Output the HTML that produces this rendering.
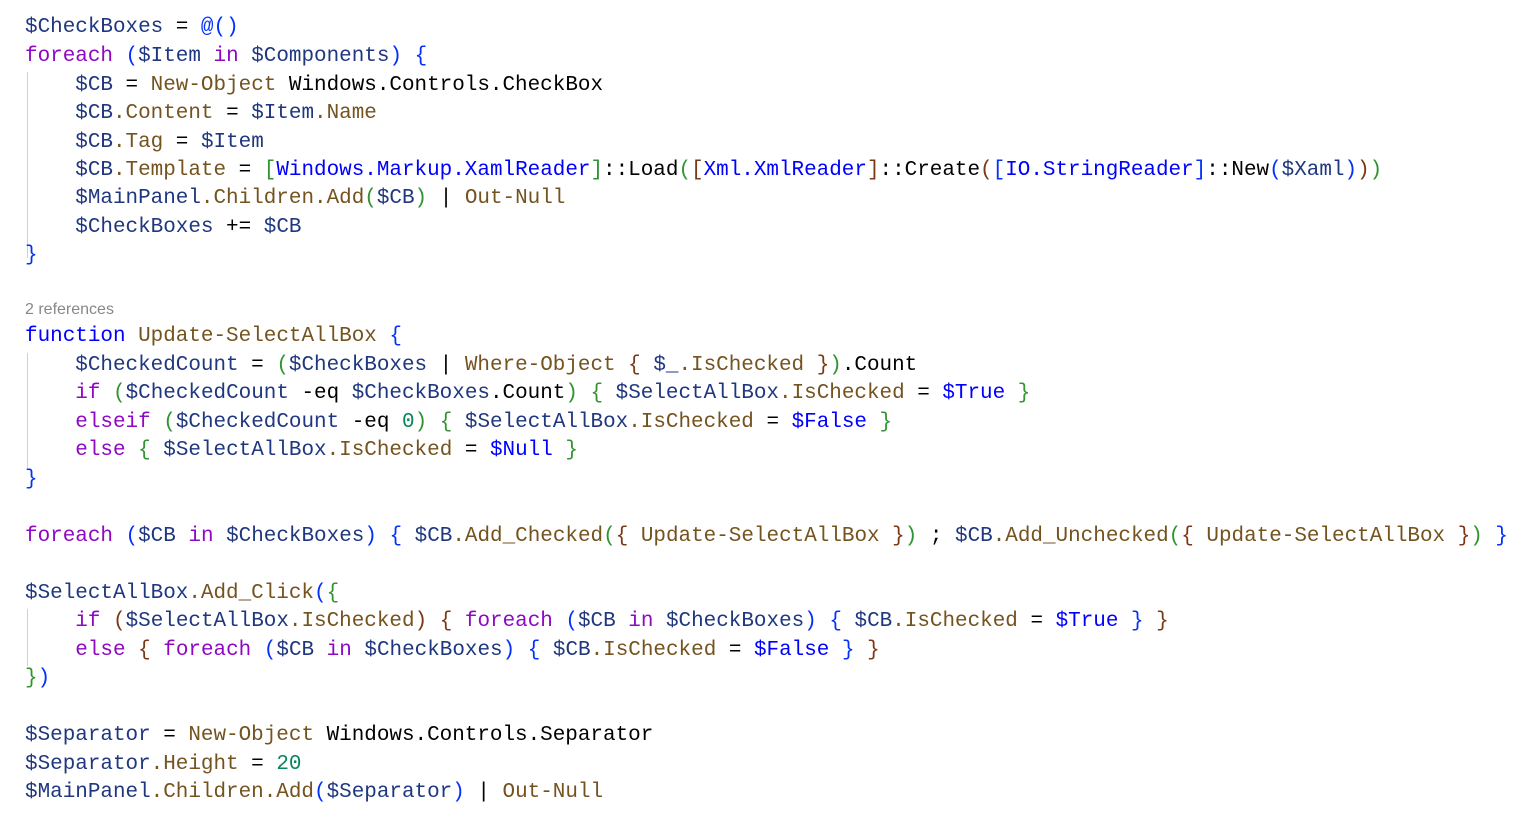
<!DOCTYPE html>
<html><head><meta charset="utf-8"><style>
html,body{margin:0;padding:0;background:#fff;width:1536px;height:820px;overflow:hidden}
.l{position:absolute;left:25px;height:28px;line-height:28px;font-family:"Liberation Mono",monospace;font-size:20.95px;color:#000;white-space:pre}
.v{color:#1f377f}.k{color:#8f08c4}.kb{color:#0000ff}.m{color:#74531f}.t{color:#0000ff}.n{color:#098658}
.b1{color:#0431fa}.b2{color:#319331}.b3{color:#7b3814}
.g{position:absolute;left:27px;width:1px;background:#d0d0d0}
.cl{position:absolute;left:25px;top:301px;font-family:"Liberation Sans",sans-serif;font-size:16px;color:#888}
</style></head><body>
<div class="g" style="top:72px;height:186px"></div>
<div class="g" style="top:353px;height:115px"></div>
<div class="g" style="top:609px;height:57px"></div>
<div class="l" style="top:14px"><span class="v">$CheckBoxes</span> = <span class="b1">@(</span><span class="b1">)</span></div>
<div class="l" style="top:43px"><span class="k">foreach</span> <span class="b1">(</span><span class="v">$Item</span> <span class="k">in</span> <span class="v">$Components</span><span class="b1">)</span> <span class="b1">{</span></div>
<div class="l" style="top:72px">    <span class="v">$CB</span> = <span class="m">New-Object</span> Windows.Controls.CheckBox</div>
<div class="l" style="top:100px">    <span class="v">$CB</span><span class="m">.Content</span> = <span class="v">$Item</span><span class="m">.Name</span></div>
<div class="l" style="top:129px">    <span class="v">$CB</span><span class="m">.Tag</span> = <span class="v">$Item</span></div>
<div class="l" style="top:157px">    <span class="v">$CB</span><span class="m">.Template</span> = <span class="b2">[</span><span class="t">Windows.Markup.XamlReader</span><span class="b2">]</span>::Load<span class="b2">(</span><span class="b3">[</span><span class="t">Xml.XmlReader</span><span class="b3">]</span>::Create<span class="b3">(</span><span class="b1">[</span><span class="t">IO.StringReader</span><span class="b1">]</span>::New<span class="b1">(</span><span class="v">$Xaml</span><span class="b1">)</span><span class="b3">)</span><span class="b2">)</span></div>
<div class="l" style="top:185px">    <span class="v">$MainPanel</span><span class="m">.Children.Add</span><span class="b2">(</span><span class="v">$CB</span><span class="b2">)</span> | <span class="m">Out-Null</span></div>
<div class="l" style="top:214px">    <span class="v">$CheckBoxes</span> += <span class="v">$CB</span></div>
<div class="l" style="top:242px"><span class="b1">}</span></div>
<div class="cl">2 references</div>
<div class="l" style="top:323px"><span class="kb">function</span> <span class="m">Update-SelectAllBox</span> <span class="b1">{</span></div>
<div class="l" style="top:352px">    <span class="v">$CheckedCount</span> = <span class="b2">(</span><span class="v">$CheckBoxes</span> | <span class="m">Where-Object</span> <span class="b3">{</span> <span class="v">$_</span><span class="m">.IsChecked</span> <span class="b3">}</span><span class="b2">)</span>.Count</div>
<div class="l" style="top:380px">    <span class="k">if</span> <span class="b2">(</span><span class="v">$CheckedCount</span> -eq <span class="v">$CheckBoxes</span>.Count<span class="b2">)</span> <span class="b2">{</span> <span class="v">$SelectAllBox</span><span class="m">.IsChecked</span> = <span class="kb">$True</span> <span class="b2">}</span></div>
<div class="l" style="top:409px">    <span class="k">elseif</span> <span class="b2">(</span><span class="v">$CheckedCount</span> -eq <span class="n">0</span><span class="b2">)</span> <span class="b2">{</span> <span class="v">$SelectAllBox</span><span class="m">.IsChecked</span> = <span class="kb">$False</span> <span class="b2">}</span></div>
<div class="l" style="top:437px">    <span class="k">else</span> <span class="b2">{</span> <span class="v">$SelectAllBox</span><span class="m">.IsChecked</span> = <span class="kb">$Null</span> <span class="b2">}</span></div>
<div class="l" style="top:466px"><span class="b1">}</span></div>
<div class="l" style="top:523px"><span class="k">foreach</span> <span class="b1">(</span><span class="v">$CB</span> <span class="k">in</span> <span class="v">$CheckBoxes</span><span class="b1">)</span> <span class="b1">{</span> <span class="v">$CB</span><span class="m">.Add_Checked</span><span class="b2">(</span><span class="b3">{</span> <span class="m">Update-SelectAllBox</span> <span class="b3">}</span><span class="b2">)</span> ; <span class="v">$CB</span><span class="m">.Add_Unchecked</span><span class="b2">(</span><span class="b3">{</span> <span class="m">Update-SelectAllBox</span> <span class="b3">}</span><span class="b2">)</span> <span class="b1">}</span></div>
<div class="l" style="top:580px"><span class="v">$SelectAllBox</span><span class="m">.Add_Click</span><span class="b1">(</span><span class="b2">{</span></div>
<div class="l" style="top:608px">    <span class="k">if</span> <span class="b3">(</span><span class="v">$SelectAllBox</span><span class="m">.IsChecked</span><span class="b3">)</span> <span class="b3">{</span> <span class="k">foreach</span> <span class="b1">(</span><span class="v">$CB</span> <span class="k">in</span> <span class="v">$CheckBoxes</span><span class="b1">)</span> <span class="b1">{</span> <span class="v">$CB</span><span class="m">.IsChecked</span> = <span class="kb">$True</span> <span class="b1">}</span> <span class="b3">}</span></div>
<div class="l" style="top:637px">    <span class="k">else</span> <span class="b3">{</span> <span class="k">foreach</span> <span class="b1">(</span><span class="v">$CB</span> <span class="k">in</span> <span class="v">$CheckBoxes</span><span class="b1">)</span> <span class="b1">{</span> <span class="v">$CB</span><span class="m">.IsChecked</span> = <span class="kb">$False</span> <span class="b1">}</span> <span class="b3">}</span></div>
<div class="l" style="top:665px"><span class="b2">}</span><span class="b1">)</span></div>
<div class="l" style="top:722px"><span class="v">$Separator</span> = <span class="m">New-Object</span> Windows.Controls.Separator</div>
<div class="l" style="top:751px"><span class="v">$Separator</span><span class="m">.Height</span> = <span class="n">20</span></div>
<div class="l" style="top:779px"><span class="v">$MainPanel</span><span class="m">.Children.Add</span><span class="b1">(</span><span class="v">$Separator</span><span class="b1">)</span> | <span class="m">Out-Null</span></div>
</body></html>
